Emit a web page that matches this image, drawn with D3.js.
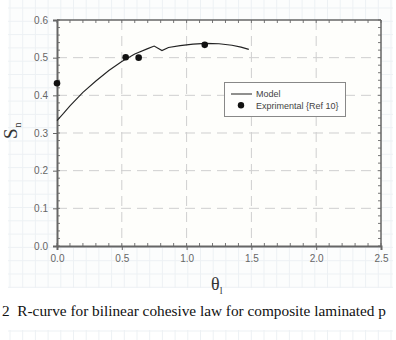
<!DOCTYPE html>
<html><head><meta charset="utf-8">
<script src="https://cdn.jsdelivr.net/npm/d3@7"></script>
<style>body{margin:0;background:#fff;}svg{display:block;}</style>
</head><body>
<script>
// Model curve (theta_l vs S_n)
const modelTheta = [0, 0.05, 0.1, 0.2, 0.3, 0.4, 0.5, 0.6, 0.7, 0.75, 0.81, 0.86, 0.95, 1.05, 1.15, 1.25, 1.35, 1.42, 1.48];
const modelS     = [0.333, 0.352, 0.372, 0.408, 0.438, 0.466, 0.490, 0.510, 0.524, 0.531, 0.519, 0.527, 0.532, 0.536, 0.538, 0.537, 0.533, 0.528, 0.522];
// Experimental points (Ref 10)
const expTheta = [0, 0.53, 0.63, 1.14];
const expS     = [0.432, 0.501, 0.500, 0.534];
const xTicks = [0.0, 0.5, 1.0, 1.5, 2.0, 2.5];
const yTicks = [0.0, 0.1, 0.2, 0.3, 0.4, 0.5, 0.6];
const legendLabels = ["Model", "Exprimental {Ref 10}"];
const caption = "2\u00a0\u00a0R-curve for bilinear cohesive law for composite laminated p";

const W = 396, H = 340;
const svg = d3.select("body").append("svg").attr("width", W).attr("height", H);

// graph-paper background
const bg = svg.append("g");
bg.append("rect").attr("x", 8).attr("y", 0).attr("width", 385).attr("height", 288).attr("fill", "#fcfdfd");
for (let x = 10; x < 393; x += 12.7) bg.append("line").attr("x1", x).attr("x2", x).attr("y1", 0).attr("y2", 288).attr("stroke", "#edf1f4").attr("stroke-width", 1);
for (let y = 8; y < 288; y += 13.3) bg.append("line").attr("x1", 8).attr("x2", 393).attr("y1", y).attr("y2", y).attr("stroke", "#edf1f4").attr("stroke-width", 1);
for (let x = 10; x < 393; x += 12.7) bg.append("line").attr("x1", x).attr("x2", x).attr("y1", 330).attr("y2", 340).attr("stroke", "#edf1f4");
bg.append("line").attr("x1", 8).attr("x2", 393).attr("y1", 331).attr("y2", 331).attr("stroke", "#edf1f4");

const L = 57, R = 381, T = 20, B = 246;
const x = d3.scaleLinear().domain([0, 2.5]).range([L, R]);
const y = d3.scaleLinear().domain([0, 0.6]).range([B, T]);

svg.append("rect").attr("x", L).attr("y", T).attr("width", R - L).attr("height", B - T).attr("fill", "#fefefb");

// dashed grid
const grid = svg.append("g").attr("stroke", "#cfcfcf").attr("stroke-width", 1).attr("stroke-dasharray", "10,6");
yTicks.slice(1, -1).forEach(v => grid.append("line").attr("x1", L).attr("x2", R).attr("y1", y(v)).attr("y2", y(v)));
xTicks.slice(1, -1).forEach(v => grid.append("line").attr("y1", T).attr("y2", B).attr("x1", x(v)).attr("x2", x(v)));

// minor ticks (inside)
const minorX = d3.range(0, 2.5001, 0.1);
const minorY = d3.range(0, 0.6001, 0.02);
const mt = svg.append("g").attr("stroke", "#777").attr("stroke-width", 1);
minorX.forEach(v => {
  mt.append("line").attr("x1", x(v)).attr("x2", x(v)).attr("y1", B).attr("y2", B - 3);
  mt.append("line").attr("x1", x(v)).attr("x2", x(v)).attr("y1", T).attr("y2", T + 3);
});
minorY.forEach(v => {
  mt.append("line").attr("y1", y(v)).attr("y2", y(v)).attr("x1", L).attr("x2", L + 3);
  mt.append("line").attr("y1", y(v)).attr("y2", y(v)).attr("x1", R).attr("x2", R - 3);
});

// frame
svg.append("line").attr("x1", L).attr("x2", R).attr("y1", T).attr("y2", T).attr("stroke", "#666").attr("stroke-width", 1.5);
svg.append("line").attr("x1", R).attr("x2", R).attr("y1", T).attr("y2", B).attr("stroke", "#666").attr("stroke-width", 1.5);

// axes
const xAxis = svg.append("g").attr("transform", `translate(0,${B})`)
  .call(d3.axisBottom(x).tickValues(xTicks).tickFormat(d3.format(".1f")).tickSizeOuter(0).tickSize(4).tickPadding(5));
const yAxis = svg.append("g").attr("transform", `translate(${L},0)`)
  .call(d3.axisLeft(y).tickValues(yTicks).tickFormat(d3.format(".1f")).tickSizeOuter(0).tickSize(4).tickPadding(5));
[xAxis, yAxis].forEach(a => {
  a.select(".domain").attr("stroke", "#666").attr("stroke-width", 2);
  a.selectAll(".tick line").attr("stroke", "#666");
  a.selectAll(".tick text").attr("fill", "#666").attr("font-family", "Arial, 'Liberation Sans', sans-serif").attr("font-size", 10);
});

// model line
const line = d3.line().x((d, i) => x(modelTheta[i])).y((d, i) => y(modelS[i])).curve(d3.curveLinear);
svg.append("path").datum(modelS).attr("d", line).attr("fill", "none").attr("stroke", "#222").attr("stroke-width", 1.1);

// experimental points
svg.append("g").selectAll("circle").data(expS).join("circle")
  .attr("cx", (d, i) => x(expTheta[i])).attr("cy", d => y(d)).attr("r", 3.3).attr("fill", "#111");

// legend
const lg = svg.append("g");
lg.append("rect").attr("x", 224.5).attr("y", 82.5).attr("width", 121).attr("height", 34).attr("fill", "#fefefd").attr("stroke", "#888").attr("stroke-width", 1);
lg.append("line").attr("x1", 231).attr("x2", 252).attr("y1", 94).attr("y2", 94).attr("stroke", "#333").attr("stroke-width", 1.1);
lg.append("circle").attr("cx", 241).attr("cy", 105.3).attr("r", 3.2).attr("fill", "#111");
lg.selectAll("text").data(legendLabels).join("text")
  .attr("x", 256).attr("y", (d, i) => 94 + i * 11.5).attr("dy", "0.35em")
  .attr("font-family", "Arial, 'Liberation Sans', sans-serif").attr("font-size", 9).attr("fill", "#444").text(d => d);

// axis titles
const yl = svg.append("text").attr("transform", "translate(17,139) rotate(-90)")
  .attr("font-family", "'Liberation Serif', 'Times New Roman', serif").attr("font-size", 19).attr("fill", "#333");
yl.append("tspan").text("S");
yl.append("tspan").attr("font-size", 10).attr("dy", 4).attr("dx", 1).text("n");
const xl = svg.append("text").attr("x", 211).attr("y", 290)
  .attr("font-family", "'Liberation Serif', 'Times New Roman', serif").attr("font-size", 18).attr("fill", "#333");
xl.append("tspan").text("θ");
xl.append("tspan").attr("font-size", 10).attr("dy", 4).text("l");

// caption
svg.append("text").attr("x", 2).attr("y", 315.5).attr("font-family", "'Liberation Serif', 'Times New Roman', serif")
  .attr("font-size", 15.3).attr("fill", "#111").text(caption);
</script>
</body></html>
